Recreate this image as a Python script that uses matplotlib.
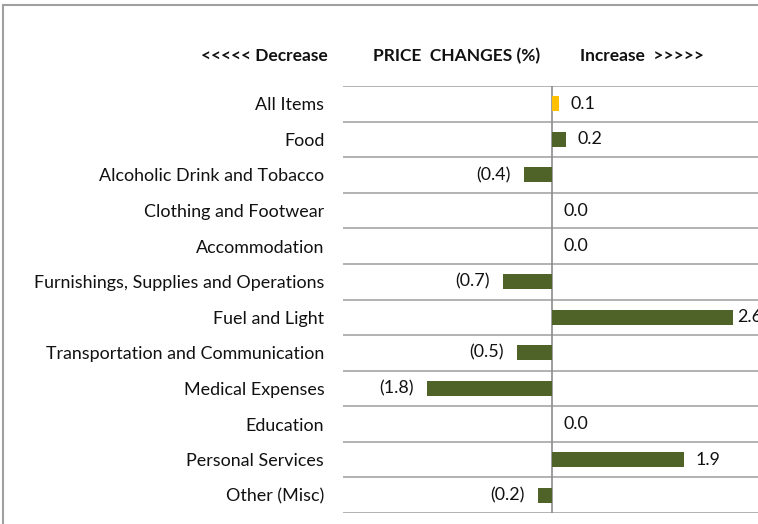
import matplotlib
matplotlib.use("Agg")
import matplotlib.pyplot as plt
from matplotlib.lines import Line2D

categories = ["All Items", "Food", "Alcoholic Drink and Tobacco", "Clothing and Footwear",
              "Accommodation", "Furnishings, Supplies and Operations", "Fuel and Light",
              "Transportation and Communication", "Medical Expenses", "Education",
              "Personal Services", "Other (Misc)"]
values = [0.1, 0.2, -0.4, 0.0, 0.0, -0.7, 2.6, -0.5, -1.8, 0.0, 1.9, -0.2]
bar_colors = ["#FFC000"] + ["#4F6228"] * 11

plt.rcParams['font.family'] = ['Lato', 'DejaVu Sans']

W, H = 758, 524
fig = plt.figure(figsize=(W / 100, H / 100), dpi=100)
left, right, top, bottom = 343, 760.5, 86, 513
ax = fig.add_axes([left / W, 1 - bottom / H, (right - left) / W, (bottom - top) / H])

FS = 12.9
TC = "#111111"

y = list(range(len(categories)))
ax.barh(y, values, height=0.42, color=bar_colors, zorder=3)
ax.set_xlim(-3, 3)
ax.set_ylim(len(categories) - 0.5, -0.5)

for k in range(len(categories) + 1):
    ax.axhline(k - 0.5, color="#A6A6A6", lw=1.2, zorder=1)
ax.axvline(0, color="#8C8C8C", lw=1.2, zorder=2)

for i, v in enumerate(values):
    if v < 0:
        ax.annotate(f"({abs(v):.1f})", (v, i), xytext=(-9.5, 0), textcoords="offset points",
                    ha="right", va="center", fontsize=FS, color=TC)
    else:
        off = 3 if v > 2.5 else 8.6
        ax.annotate(f"{v:.1f}", (v, i), xytext=(off, 0), textcoords="offset points",
                    ha="left", va="center", fontsize=FS, color=TC,
                    annotation_clip=False)

ax.set_yticks(y)
ax.set_yticklabels(categories, fontsize=FS, color=TC)
ax.tick_params(axis="y", length=0, pad=13.5)
ax.set_xticks([])
for s in ax.spines.values():
    s.set_visible(False)

hy = 1 - 56 / H
HFS = 12.5
fig.text(264 / W, hy, "<<<<< Decrease", ha="center", va="center", fontsize=HFS, fontweight="bold", color=TC)
fig.text(457 / W, hy, "PRICE  CHANGES (%)", ha="center", va="center", fontsize=HFS, fontweight="bold", color=TC)
fig.text(642 / W, hy, "Increase  >>>>>", ha="center", va="center", fontsize=HFS, fontweight="bold", color=TC)

fig.add_artist(Line2D([2.5 / W, 2.5 / W], [0, 1 - 4.5 / H], transform=fig.transFigure,
                      color="#A0A0A0", lw=1.5))
fig.add_artist(Line2D([2.5 / W, 1], [1 - 4.5 / H, 1 - 4.5 / H], transform=fig.transFigure,
                      color="#A0A0A0", lw=1.5))

fig.savefig("out.png", dpi=100)
